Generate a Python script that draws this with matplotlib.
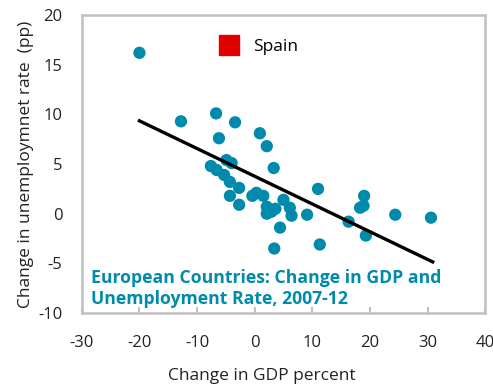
import matplotlib
matplotlib.use("Agg")
import matplotlib.pyplot as plt
from matplotlib.lines import Line2D

# ----------------------------
# Data
# ----------------------------

gdp_change = [-20.0, -12.8, -6.7, -3.4, -6.2, 0.9, 2.1, 3.3, -4.9, -4.0,
              -7.6, -6.6, -5.3, -4.3, -2.7, -4.3, -2.7, -0.4, 0.3, 1.5,
              2.1, 2.1, 2.9, 3.6, 5.0, 6.1, 6.4, 4.4, 3.4, 11.0,
              9.1, 11.3, 19.0, 18.3, 18.9, 16.3, 19.3, 24.4, 30.6]
unemp_change = [16.2, 9.3, 10.1, 9.2, 7.6, 8.1, 6.8, 4.6, 5.4, 5.1,
                4.8, 4.4, 3.9, 3.2, 2.6, 1.8, 0.9, 1.8, 2.1, 1.8,
                0.7, 0.0, 0.2, 0.5, 1.4, 0.6, -0.2, -1.4, -3.5, 2.5,
                -0.1, -3.1, 1.8, 0.6, 0.8, -0.8, -2.2, -0.1, -0.4]

trend_x = [-20.0, 30.9]
trend_y = [9.35, -4.85]

x_ticks = [-30, -20, -10, 0, 10, 20, 30, 40]
y_ticks = [-10, -5, 0, 5, 10, 15, 20]

TEAL = "#008aab"
RED = "#e00000"
GREY = "#c0c0c0"
INK = "#222222"

plt.rcParams["font.family"] = ["Open Sans", "DejaVu Sans"]
plt.rcParams["axes.unicode_minus"] = False

fig = plt.figure(figsize=(4.93, 3.86), dpi=100)
ax = fig.add_axes([0.166, 0.189, 0.818, 0.772])

ax.scatter(gdp_change, unemp_change, s=78, color=TEAL, edgecolors="none", zorder=2)
ax.plot(trend_x, trend_y, color="black", linewidth=2.4, zorder=3)

ax.set_xlim(-30, 40)
ax.set_ylim(-10, 20)
ax.set_xticks(x_ticks)
ax.set_yticks(y_ticks)
ax.tick_params(axis="x", direction="in", length=4, width=1.5, color=GREY,
               labelsize=12, pad=16, labelcolor=INK)
ax.tick_params(axis="y", length=0, labelsize=12, pad=14, labelcolor=INK)

for side in ["left", "right", "top", "bottom"]:
    ax.spines[side].set_color(GREY)
    ax.spines[side].set_linewidth(1.8)

ax.set_xlabel("Change in GDP percent", fontsize=12.5, labelpad=12, color=INK, x=0.447)
ax.set_ylabel("Change in unemploymnet rate  (pp)", fontsize=12.5, labelpad=3, color=INK)

handle = Line2D([], [], linestyle="none", marker="s", markersize=15,
                markerfacecolor=RED, markeredgecolor=RED)
ax.legend([handle], ["Spain"], loc="center left", bbox_to_anchor=(0.305, 0.893),
          frameon=False, fontsize=12.5, handletextpad=0.35, borderaxespad=0)

ax.text(0.022, 0.018, "European Countries: Change in GDP and\nUnemployment Rate, 2007-12",
        transform=ax.transAxes, color=TEAL, fontsize=12.7, fontweight="bold",
        ha="left", va="bottom", linespacing=1.22)

fig.savefig("out.png", dpi=100)
